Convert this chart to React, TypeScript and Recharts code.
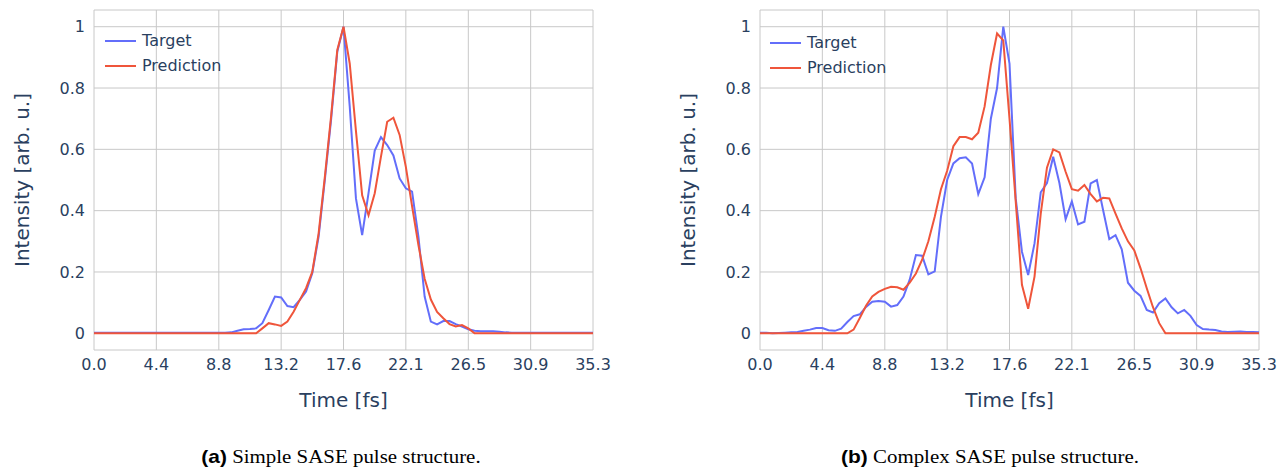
import { LineChart, Line, XAxis, YAxis, CartesianGrid, Legend } from "recharts";

// time axis [fs], 81 samples
const time = [
  0, 0.44, 0.88, 1.32, 1.77, 2.21, 2.65, 3.09, 3.53, 3.97, 4.41, 4.85, 5.3,
  5.74, 6.18, 6.62, 7.06, 7.5, 7.94, 8.38, 8.83, 9.27, 9.71, 10.15, 10.59,
  11.03, 11.47, 11.91, 12.36, 12.8, 13.24, 13.68, 14.12, 14.56, 15.0, 15.44,
  15.89, 16.33, 16.77, 17.21, 17.65, 18.09, 18.53, 18.97, 19.42, 19.86, 20.3,
  20.74, 21.18, 21.62, 22.06, 22.5, 22.95, 23.39, 23.83, 24.27, 24.71, 25.15,
  25.59, 26.03, 26.48, 26.92, 27.36, 27.8, 28.24, 28.68, 29.12, 29.56, 30.01,
  30.45, 30.89, 31.33, 31.77, 32.21, 32.65, 33.09, 33.54, 33.98, 34.42, 34.86,
  35.3,
];

const xTicks = [0, 4.41, 8.83, 13.24, 17.65, 22.06, 26.48, 30.89, 35.3];
const xTickLabels = ["0.0", "4.4", "8.8", "13.2", "17.6", "22.1", "26.5", "30.9", "35.3"];
const yTicks = [0, 0.2, 0.4, 0.6, 0.8, 1];
const yTickLabels = ["0", "0.2", "0.4", "0.6", "0.8", "1"];
const legendOrder = ["Target", "Prediction"];

// (a) simple pulse
const simpleTarget = [
  0.002, 0.002, 0.002, 0.002, 0.002, 0.002, 0.002, 0.002, 0.002, 0.002,
  0.002, 0.002, 0.002, 0.002, 0.002, 0.002, 0.002, 0.002, 0.002, 0.002,
  0.002, 0.002, 0.003, 0.008, 0.013, 0.014, 0.016, 0.033, 0.076, 0.12,
  0.117, 0.089, 0.085, 0.109, 0.136, 0.196, 0.315, 0.5, 0.696, 0.918,
  1.0, 0.74, 0.44, 0.32, 0.457, 0.596, 0.64, 0.614, 0.58, 0.505,
  0.473, 0.462, 0.315, 0.12, 0.038, 0.029, 0.04, 0.04, 0.03, 0.022,
  0.013, 0.008, 0.007, 0.007, 0.007, 0.005, 0.003, 0.002, 0.002, 0.002,
  0.002, 0.002, 0.002, 0.002, 0.002, 0.002, 0.002, 0.002, 0.002, 0.002,
  0.002,
];
const simplePrediction = [
  0, 0, 0, 0, 0, 0, 0, 0, 0, 0,
  0, 0, 0, 0, 0, 0, 0, 0, 0, 0,
  0, 0, 0, 0, 0, 0, 0, 0.016, 0.033, 0.029,
  0.024, 0.038, 0.07, 0.109, 0.147, 0.2, 0.326, 0.51, 0.707, 0.924,
  1.0, 0.88, 0.66, 0.45, 0.385, 0.457, 0.576, 0.69, 0.703, 0.647,
  0.543, 0.415, 0.288, 0.178, 0.11, 0.07, 0.049, 0.03, 0.022, 0.027,
  0.016, 0, 0, 0, 0, 0, 0, 0, 0, 0,
  0, 0, 0, 0, 0, 0, 0, 0, 0, 0,
  0,
];

// (b) complex pulse
const complexTarget = [
  0.002, 0.002, 0, 0.001, 0.002, 0.003, 0.004, 0.008, 0.012, 0.017,
  0.017, 0.01, 0.008, 0.015, 0.037, 0.056, 0.062, 0.086, 0.103, 0.105,
  0.103, 0.087, 0.092, 0.12, 0.175, 0.255, 0.253, 0.192, 0.202, 0.38,
  0.5, 0.554, 0.571, 0.574, 0.554, 0.454, 0.509, 0.7, 0.8, 1.0,
  0.88, 0.44, 0.266, 0.19, 0.293, 0.46, 0.49, 0.576, 0.49, 0.372,
  0.43, 0.355, 0.364, 0.489, 0.5, 0.402, 0.307, 0.32, 0.274, 0.165,
  0.139, 0.122, 0.076, 0.068, 0.098, 0.114, 0.085, 0.065, 0.076, 0.057,
  0.027, 0.014, 0.012, 0.011, 0.006, 0.004, 0.005, 0.006, 0.004, 0.004,
  0.003,
];
const complexPrediction = [
  0, 0, 0, 0, 0, 0, 0, 0, 0, 0,
  0, 0, 0, 0, 0, 0.012, 0.05, 0.09, 0.12, 0.135,
  0.145, 0.152, 0.15, 0.142, 0.165, 0.195, 0.24, 0.3, 0.38, 0.47,
  0.53, 0.61, 0.64, 0.64, 0.633, 0.654, 0.74, 0.875, 0.978, 0.955,
  0.7, 0.43, 0.158, 0.08, 0.185, 0.39, 0.54, 0.6, 0.59, 0.527,
  0.47, 0.465, 0.484, 0.454, 0.43, 0.442, 0.44, 0.39, 0.342, 0.3,
  0.27, 0.212, 0.147, 0.085, 0.033, 0, 0, 0, 0, 0,
  0, 0, 0, 0, 0, 0, 0, 0, 0, 0,
  0,
];

const TEXT = "#2a3f5f";
const FONT = "'DejaVu Sans', sans-serif";
const GRID = "#c8c8c8";

const PlotlyLegend = ({ payload }) => {
  const items = [...(payload || [])].sort(
    (a, b) => legendOrder.indexOf(a.value) - legendOrder.indexOf(b.value),
  );
  return (
    <div style={{ fontFamily: FONT }}>
      {items.map((p) => (
        <div
          key={p.value}
          style={{ display: "flex", alignItems: "center", height: 25 }}
        >
          <svg width={31} height={4} style={{ display: "block" }}>
            <line x1={0} y1={2} x2={31} y2={2} stroke={p.color} strokeWidth={2} />
          </svg>
          <span style={{ marginLeft: 6, fontSize: 16, color: TEXT }}>
            {p.value}
          </span>
        </div>
      ))}
    </div>
  );
};

const Panel = ({ left, target, prediction, yAxisWidth, marginRight, legendPos, captionX, tag, caption }) => {
  const data = time.map((t, i) => ({
    t,
    target: target[i],
    prediction: prediction[i],
  }));
  const plotLeft = yAxisWidth;
  const plotRight = 640 - marginRight;
  const plotCenter = (plotLeft + plotRight) / 2;

  return (
    <div style={{ position: "absolute", left, top: 0, width: 640, height: 468 }}>
      <LineChart
        width={640}
        height={380}
        data={data}
        margin={{ top: 10, right: marginRight, bottom: 0, left: 0 }}
      >
        <CartesianGrid stroke={GRID} strokeWidth={1} />
        <XAxis
          dataKey="t"
          type="number"
          domain={[0, 35.3]}
          ticks={xTicks}
          interval={0}
          height={30}
          axisLine={false}
          tickLine={false}
          tickSize={0}
          tickMargin={9}
          tickFormatter={(v, i) => xTickLabels[i]}
          tick={{ fill: TEXT, fontSize: 16, fontFamily: FONT }}
        />
        <YAxis
          type="number"
          domain={[-0.0545, 1.0545]}
          ticks={yTicks}
          interval={0}
          width={yAxisWidth}
          axisLine={false}
          tickLine={false}
          tickSize={0}
          tickMargin={9}
          tickFormatter={(v, i) => yTickLabels[i]}
          tick={{ fill: TEXT, fontSize: 16, fontFamily: FONT }}
        />
        <Legend
          layout="vertical"
          align="center"
          verticalAlign="middle"
          content={PlotlyLegend}
          wrapperStyle={{ left: legendPos[0], top: legendPos[1], width: 140 }}
        />
        <Line
          type="linear"
          dataKey="target"
          name="Target"
          stroke="#636efa"
          strokeWidth={2}
          dot={false}
          isAnimationActive={false}
        />
        <Line
          type="linear"
          dataKey="prediction"
          name="Prediction"
          stroke="#EF553B"
          strokeWidth={2}
          dot={false}
          isAnimationActive={false}
        />
      </LineChart>

      {/* axis titles */}
      <div
        style={{
          position: "absolute",
          left: plotLeft - 72,
          top: 180,
          transform: "translate(-50%, -50%) rotate(-90deg)",
          whiteSpace: "nowrap",
          fontFamily: FONT,
          fontSize: 20,
          color: TEXT,
        }}
      >
        Intensity [arb. u.]
      </div>
      <div
        style={{
          position: "absolute",
          left: plotCenter,
          top: 400,
          transform: "translate(-50%, -50%)",
          whiteSpace: "nowrap",
          fontFamily: FONT,
          fontSize: 20,
          color: TEXT,
        }}
      >
        Time [fs]
      </div>

      {/* figure caption */}
      <div
        style={{
          position: "absolute",
          left: captionX,
          top: 457,
          transform: "translate(-50%, -50%) scaleX(1.1)",
          whiteSpace: "nowrap",
          fontSize: 19,
          color: "#000",
        }}
      >
        <span style={{ fontFamily: "'Liberation Sans', Arial, sans-serif", fontWeight: "bold" }}>
          ({tag})
        </span>{" "}
        <span style={{ fontFamily: "'Liberation Serif', 'Times New Roman', serif" }}>
          {caption}
        </span>
      </div>
    </div>
  );
};

export default function App() {
  return (
    <div
      style={{
        position: "absolute",
        left: 0,
        top: 0,
        width: 1280,
        height: 468,
        background: "#fff",
        overflow: "hidden",
      }}
    >
      <Panel
        left={0}
        target={simpleTarget}
        prediction={simplePrediction}
        yAxisWidth={94}
        marginRight={47}
        legendPos={[105, 28]}
        captionX={341}
        tag="a"
        caption="Simple SASE pulse structure."
      />
      <Panel
        left={640}
        target={complexTarget}
        prediction={complexPrediction}
        yAxisWidth={120}
        marginRight={21}
        legendPos={[130, 30]}
        captionX={350}
        tag="b"
        caption="Complex SASE pulse structure."
      />
    </div>
  );
}
